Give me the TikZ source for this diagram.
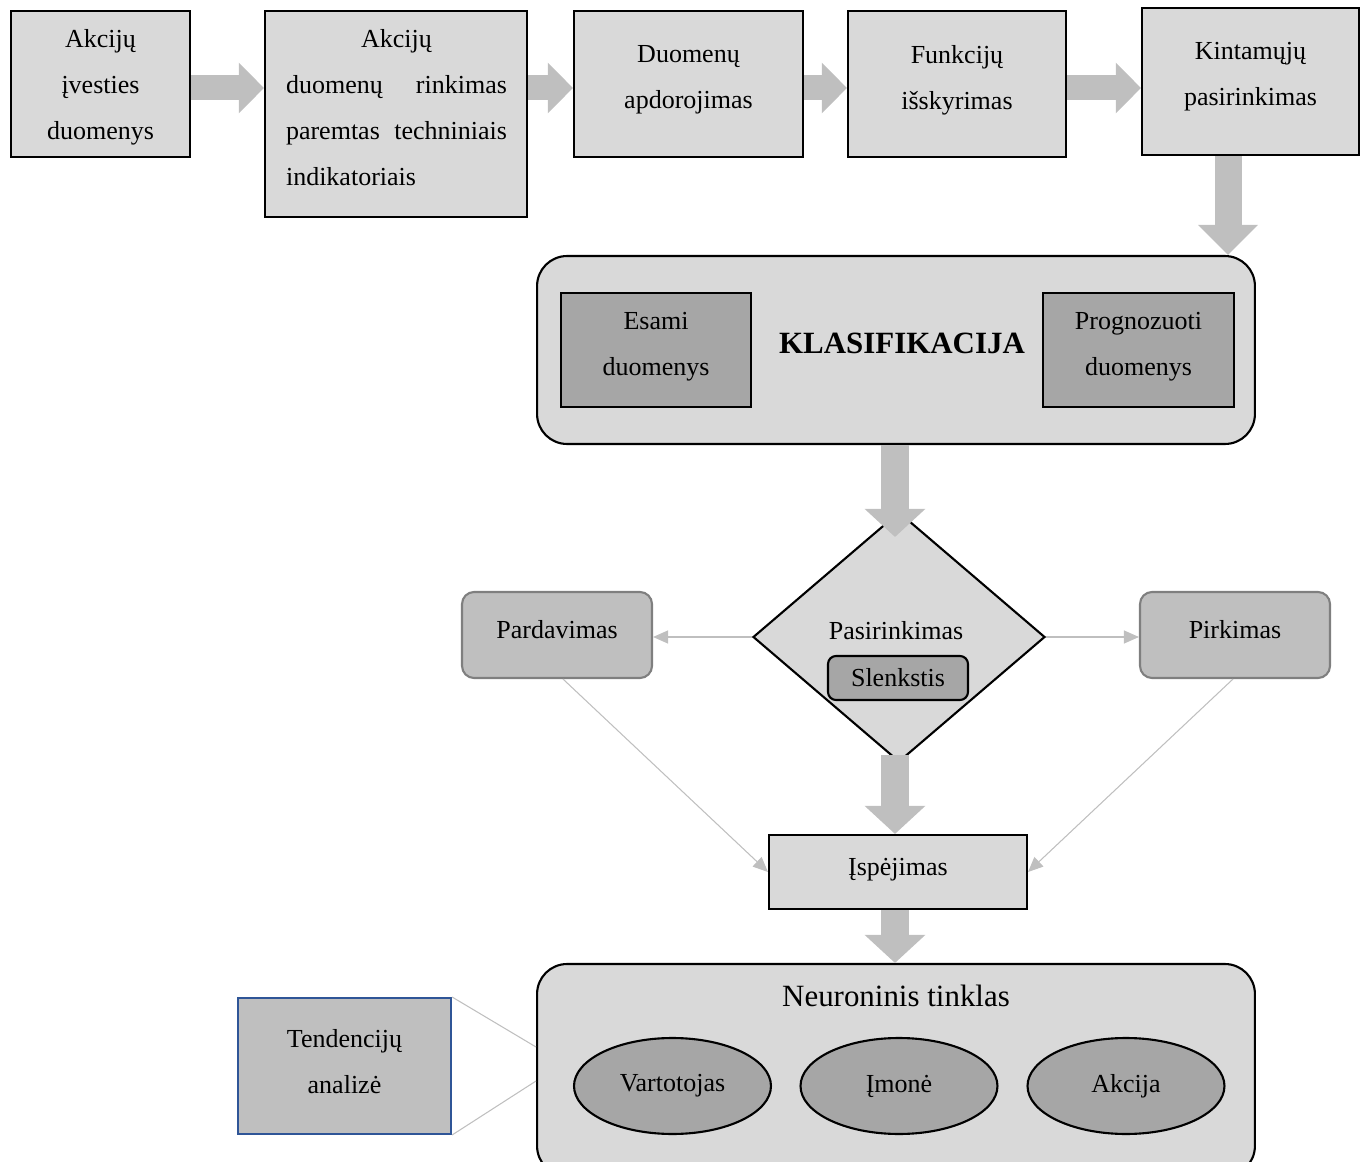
\documentclass[tikz,border=0pt]{standalone}
\usepackage{fontspec}
\setmainfont{Liberation Serif}
\usetikzlibrary{arrows.meta,shapes.geometric,calc}

\definecolor{boxlight}{HTML}{D9D9D9}
\definecolor{boxmid}{HTML}{BFBFBF}
\definecolor{boxdark}{HTML}{A6A6A6}
\definecolor{edgegray}{HTML}{7F7F7F}
\definecolor{edgeblue}{HTML}{2F5597}
\definecolor{flowgray}{HTML}{BFBFBF}

\begin{document}
\begin{tikzpicture}[x=0.02cm,y=-0.02cm,
  txt/.style={font=\fontsize{14.8}{26.2}\selectfont, align=center, inner sep=0pt},
  bigtxt/.style={font=\fontsize{17.6}{22}\selectfont, inner sep=0pt},
  stepbox/.style={draw=black, line width=1.2pt, fill=boxlight, inner sep=0pt},
  darkbox/.style={draw=black, line width=1.2pt, fill=boxdark, inner sep=0pt},
  groupbox/.style={draw=black, line width=1.2pt, fill=boxlight, rounded corners=0.6cm, inner sep=0pt},
  choicebox/.style={draw=edgegray, line width=1.2pt, fill=boxmid, rounded corners=0.24cm, inner sep=0pt},
  oval/.style={ellipse, draw=black, line width=1.2pt, fill=boxdark, inner sep=0pt,
    minimum width=3.94cm, minimum height=1.92cm},
  harrow/.style={draw=flowgray, line width=0.5cm, -{Triangle[length=0.5cm,width=0.98cm]}},
  varrow/.style={draw=flowgray, line width=0.56cm, -{Triangle[length=0.56cm,width=1.18cm]}},
  thinarrow/.style={draw=flowgray, line width=0.6pt, -{Triangle[length=0.3cm,width=0.26cm]}},
  thinline/.style={draw=flowgray, line width=0.6pt}]

\useasboundingbox (0,0) rectangle (1367,1162);

% helper coordinates for the arrow axes
\coordinate (row) at (0,88);
\coordinate (ek) at (1228,0);
\coordinate (vx) at (895,0);

% ---- top row: processing steps ----
\node[stepbox, minimum width=3.58cm, minimum height=2.92cm] (A) at (100.5,84) {};
\node[txt] (At) at (100.5,87) {Akcijų\\įvesties\\duomenys};

\node[stepbox, minimum width=5.24cm, minimum height=4.12cm] (B) at (396,114) {};
\node[txt, align=left, text width=4.42cm] (Bt) at (396.5,108)
  {\makebox[4.42cm][c]{Akcijų}\\\makebox[4.42cm]{duomenų\hfill rinkimas}\\\makebox[4.42cm]{paremtas\hfill techniniais}\\indikatoriais};

\node[stepbox, minimum width=4.58cm, minimum height=2.92cm] (C) at (688.5,84) {};
\node[txt] (Ct) at (688.5,80) {Duomenų\\apdorojimas};

\node[stepbox, minimum width=4.36cm, minimum height=2.92cm] (D) at (957,84) {};
\node[txt] (Dt) at (957,80) {Funkcijų\\išskyrimas};

\node[stepbox, minimum width=4.34cm, minimum height=2.94cm] (E) at (1250.5,81.5) {};
\node[txt] (Et) at (1250.5,77) {Kintamųjų\\pasirinkimas};

% ---- classification block ----
\node[groupbox, minimum width=14.36cm, minimum height=3.76cm] (Klas) at (896,350) {};
\node[darkbox, minimum width=3.8cm, minimum height=2.28cm] (Esami) at (656,350) {};
\node[txt] (Esamit) at (656,347) {Esami\\duomenys};
\node[darkbox, minimum width=3.82cm, minimum height=2.28cm] (Prog) at (1138.5,350) {};
\node[txt] (Progt) at (1138.5,347) {Prognozuoti\\duomenys};
\node[bigtxt, font=\fontsize{17.6}{22}\selectfont\bfseries] (Klast) at (902,343) {KLASIFIKACIJA};

% ---- decision ----
\node[diamond, draw=black, line width=1.2pt, fill=boxlight, inner sep=0pt,
      minimum width=5.84cm, minimum height=5cm] (dia) at (899,637) {};
\node[txt] (diat) at (896,631) {Pasirinkimas};
\node[darkbox, rounded corners=0.16cm, minimum width=2.8cm, minimum height=0.88cm,
      font=\fontsize{14.8}{18}\selectfont] (Slenk) at (898,678) {Slenkstis};

\node[choicebox, minimum width=3.8cm, minimum height=1.72cm] (Pard) at (557,635) {};
\node[txt] (Pardt) at (557,630) {Pardavimas};
\node[choicebox, minimum width=3.8cm, minimum height=1.72cm] (Pirk) at (1235,635) {};
\node[txt] (Pirkt) at (1235,630) {Pirkimas};

\node[stepbox, minimum width=5.16cm, minimum height=1.48cm] (Isp) at (898,872) {};
\node[txt] (Ispt) at (898,870) {Įspėjimas};

% ---- neural network block (runs past the lower edge) ----
\begin{scope}
  \clip (0,0) rectangle (1367,1162);
  \node[groupbox, minimum width=14.36cm, minimum height=4.24cm] (Neur) at (896,1070) {};
\end{scope}
\node[bigtxt] (Neurt) at (896,996) {Neuroninis tinklas};
\node[oval] (Vart) at (672.5,1086) {};
\node[oval] (Imone) at (899,1086) {};
\node[oval] (Akc) at (1126,1086) {};
\node[txt] (Vartt) at (672.5,1086) {Vartotojas};
\node[txt] (Imonet) at (899,1086) {Įmonė};
\node[txt] (Akct) at (1126,1086) {Akcija};

\node[draw=edgeblue, line width=1.2pt, fill=boxmid, inner sep=0pt,
      minimum width=4.26cm, minimum height=2.72cm] (Tend) at (344.5,1066) {};
\node[txt] (Tendt) at (344.5,1062) {Tendencijų\\analizė};

% ---- main flow arrows ----
\draw[harrow] (A.east |- row) -- (B.west |- row);
\draw[harrow] (B.east |- row) -- (C.west |- row);
\draw[harrow] (C.east |- row) -- (D.west |- row);
\draw[harrow] (D.east |- row) -- (E.west |- row);
\draw[draw=flowgray, line width=0.54cm, -{Triangle[length=0.6cm,width=1.16cm]}]
  (E.south -| ek) -- (Klas.north -| ek);
\draw[varrow] (Klas.south -| vx) -- ($(dia.north -| vx)+(0,26)$);
\draw[varrow] ($(dia.south -| vx)+(0,-8)$) -- (Isp.north -| vx);
\draw[varrow] (Isp.south -| vx) -- (Neur.north -| vx);

% ---- decision branches ----
\draw[thinarrow] (dia.west) -- (Pard.east |- dia.west);
\draw[thinarrow] (dia.east) -- (Pirk.west |- dia.east);
\draw[thinarrow] ($(Pard.south)+(6,0)$) -- (Isp.west);
\draw[thinarrow] ($(Pirk.south)+(-2,0)$) -- (Isp.east);

% ---- trend analysis callout ----
\draw[thinline] (Tend.north east) -- ($(Neur.west)+(0,-23)$);
\draw[thinline] (Tend.south east) -- ($(Neur.west)+(0,11)$);
\end{tikzpicture}
\end{document}
